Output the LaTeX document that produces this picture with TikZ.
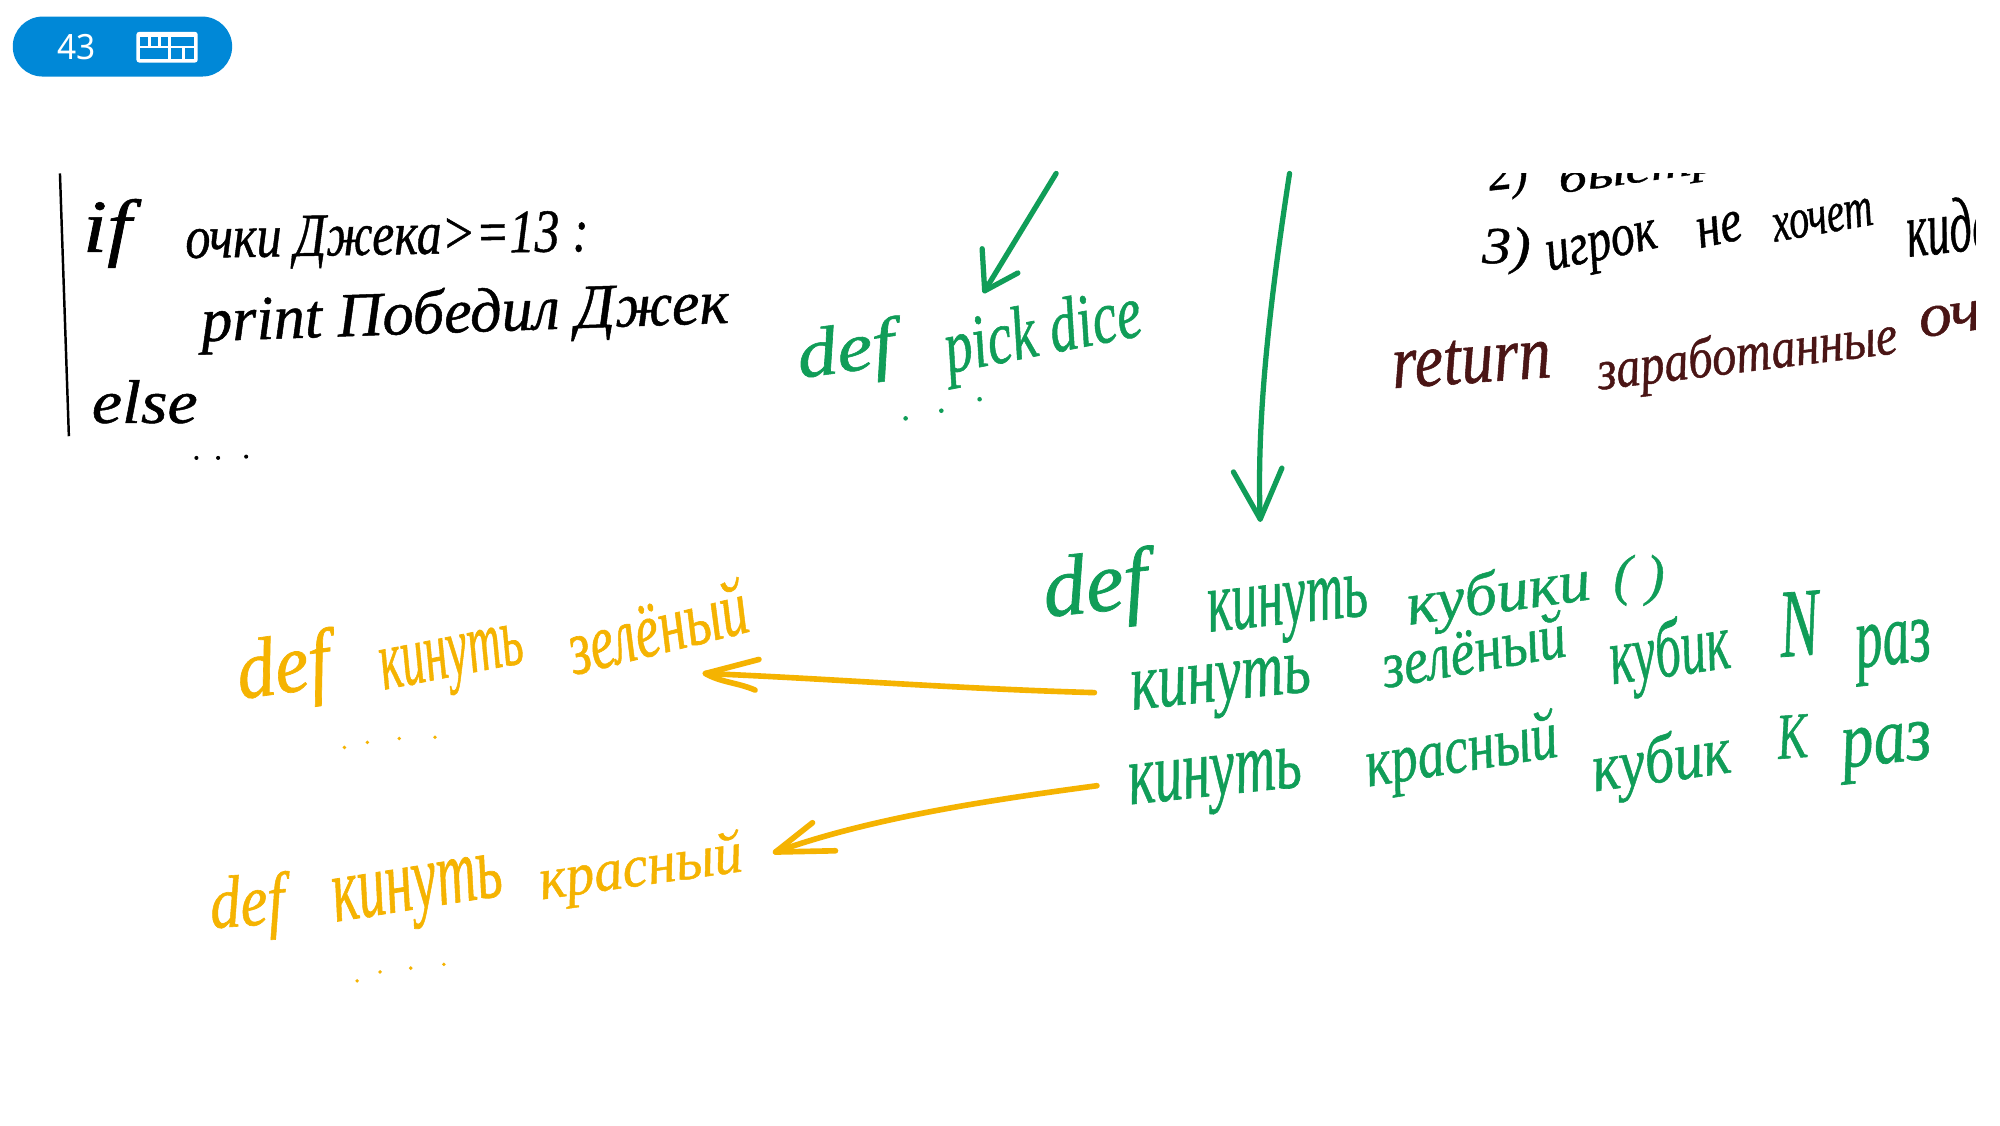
\documentclass[tikz,border=0pt]{standalone}
\usepackage{fontspec}
\usepackage{graphicx}
\setmainfont{Liberation Serif}
\newfontfamily\pillfont{Noto Sans}
\newfontfamily\handf{Liberation Serif}[UprightFont=* Italic,FakeBold=0.8]
\definecolor{hgreen}{HTML}{109D58}
\definecolor{horange}{HTML}{F5B301}
\definecolor{hmaroon}{HTML}{4A1515}
\definecolor{hblue}{HTML}{0088D7}
\newlength\pxu
\setlength\pxu{0.02551cm}
\tikzset{
  hand/.style={inner sep=0pt,outer sep=0pt,anchor=center},
  hgarrow/.style={draw=hgreen,line width=3pt,line cap=round,line join=round},
  hoarrow/.style={draw=horange,line width=3.2pt,line cap=round,line join=round},
  keycell/.style={fill=hblue,draw=none},
}
% name, x1, x2, y1, y2 (bounding box of the rotated word), angle, colour, text
\newcommand\hw[8]{%
  \pgfmathsetmacro\myC{cos(#6)}%
  \pgfmathsetmacro\myS{sin(#6)}%
  \pgfmathsetmacro\myD{\myC*\myC-\myS*\myS}%
  \pgfmathsetmacro\myW{((#3-#2)*\myC-(#5-#4)*\myS)/\myD}%
  \pgfmathsetmacro\myH{((#5-#4)*\myC-(#3-#2)*\myS)/\myD}%
  \node[hand,text=#7,rotate=#6] (#1) at ({(#2+#3)/2},{(#4+#5)/2})
    {\resizebox*{\myW\pxu}{\myH\pxu}{\handf #8}};%
}
\begin{document}
\begin{tikzpicture}[x=0.02551cm,y=-0.02551cm]
\useasboundingbox (0,0) rectangle (1568,882);
\fill[white] (0,0) rectangle (1568,882);
% pill
\fill[hblue,rounded corners=0.599cm] (10,13) rectangle (182,60);
\node[hand,text=white] (num) at (60,37) {\resizebox*{30\pxu}{20\pxu}{\pillfont 43}};
\fill[white,rounded corners=1.5] (107,25) rectangle (155,49);
\fill[keycell] (110,29) rectangle (116,36);
\fill[keycell] (118,29) rectangle (124,36);
\fill[keycell] (126,29) rectangle (132,36);
\fill[keycell] (134,29) rectangle (152,36);
\fill[keycell] (110,38) rectangle (132,46);
\fill[keycell] (134,38) rectangle (143,46);
\fill[keycell] (145,38) rectangle (152,46);
% left code block
\coordinate (barT) at (47,136);
\coordinate (barB) at (54,342);
\draw[black,line width=1.4pt] (barT) -- (barB);
\hw{t1}{65}{103}{156}{210}{0}{black}{if}
\hw{t2}{145}{462}{165}{212}{1}{black}{очки Джека>=13 :}
\hw{t3}{157}{572}{218}{278}{2}{black}{print Победил Джек}
\hw{t4}{72}{155}{298}{332}{0}{black}{else}
\foreach \x/\y in {154/359,171/359,193/358}{\fill[black] (\x,\y) circle (1.6);}
% pick dice
\hw{p1}{622}{705}{248}{308}{8}{hgreen}{def}
\hw{p2}{736}{900}{222}{305}{11}{hgreen}{pick dice}
\foreach \x/\y in {710/328,738/322,768/313}{\fill[hgreen] (\x,\y) circle (1.8);}
% green arrows
\coordinate (a1s) at (828,136);
\coordinate (a1e) at (772,228);
\coordinate (a1h) at (770,195);
\coordinate (a1k) at (798,214);
\draw[hgarrow] (a1s) -- (a1e);
\draw[hgarrow] (a1h) -- (a1e) -- (a1k);
\coordinate (a2s) at (1011,136);
\coordinate (a2e) at (988,407);
\coordinate (a2h) at (967,370);
\coordinate (a2k) at (1005,367);
\draw[hgarrow] (a2s) .. controls (995,240) and (985,330) .. (a2e);
\draw[hgarrow] (a2h) -- (a2e) -- (a2k);
% kinut kubiki
\hw{k1}{815}{903}{428}{498}{6}{hgreen}{def}
\hw{k2}{945}{1075}{450}{510}{6}{hgreen}{кинуть}
\hw{k3}{1100}{1250}{436}{500}{8}{hgreen}{кубики}
\hw{k4}{1265}{1305}{435}{475}{0}{hgreen}{( )}
\hw{g1}{885}{1030}{512}{570}{6}{hgreen}{кинуть}
\hw{g2}{1080}{1230}{478}{540}{10}{hgreen}{зелёный}
\hw{g3}{1258}{1360}{478}{550}{8}{hgreen}{кубик}
\hw{g4}{1393}{1428}{463}{515}{4}{hgreen}{N}
\hw{g5}{1453}{1517}{485}{538}{6}{hgreen}{раз}
\hw{r1}{883}{1023}{585}{645}{6}{hgreen}{кинуть}
\hw{r2}{1067}{1225}{555}{628}{9}{hgreen}{красный}
\hw{r3}{1245}{1360}{567}{632}{8}{hgreen}{кубик}
\hw{r4}{1392}{1418}{560}{595}{4}{hgreen}{К}
\hw{r5}{1442}{1517}{565}{615}{6}{hgreen}{раз}
% top right, cut off by the slide's crop
\begin{scope}
\clip (1060,136) rectangle (1549,330);
\hw{b1}{1165}{1200}{118}{158}{6}{black}{2)}
\hw{b2}{1220}{1350}{112}{158}{8}{black}{быстр}
\hw{b3}{1162}{1200}{178}{215}{0}{black}{3)}
\hw{b4}{1210}{1303}{172}{222}{12}{black}{игрок}
\hw{b5}{1328}{1368}{165}{195}{12}{black}{не}
\hw{b6}{1388}{1470}{155}{190}{10}{black}{хочет}
\hw{b7}{1492}{1565}{152}{202}{6}{black}{кида}
\hw{m1}{1090}{1217}{262}{305}{4}{hmaroon}{return}
\hw{m2}{1250}{1490}{245}{315}{7}{hmaroon}{заработанные}
\hw{m3}{1503}{1555}{235}{265}{8}{hmaroon}{оч}
\end{scope}
% orange
\hw{o1}{182}{263}{492}{562}{8}{horange}{def}
\hw{o2}{295}{415}{488}{555}{11}{horange}{кинуть}
\hw{o3}{440}{590}{452}{530}{14}{horange}{зелёный}
\hw{o4}{163}{225}{683}{740}{4}{horange}{def}
\hw{o5}{258}{398}{668}{738}{9}{horange}{кинуть}
\hw{o6}{420}{585}{650}{715}{8}{horange}{красный}
\foreach \x/\y in {270/586,288/582,313/579,341/578,280/769,298/762,322/759,348/756}{\fill[horange] (\x,\y) circle (1.5);}
\coordinate (a3s) at (858,543);
\coordinate (a3e) at (553,528);
\coordinate (a3h) at (595,517);
\coordinate (a3k) at (592,541);
\draw[hoarrow] (a3s) .. controls (750,540) and (650,532) .. (a3e);
\draw[hoarrow] (a3h) -- (a3e) .. controls (565,535) and (578,535) .. (a3k);
\coordinate (a4s) at (860,616);
\coordinate (a4e) at (608,668);
\coordinate (a4h) at (637,645);
\coordinate (a4k) at (655,667);
\draw[hoarrow] (a4s) .. controls (770,628) and (680,642) .. (a4e);
\draw[hoarrow] (a4h) -- (a4e) -- (a4k);
\end{tikzpicture}
\end{document}
